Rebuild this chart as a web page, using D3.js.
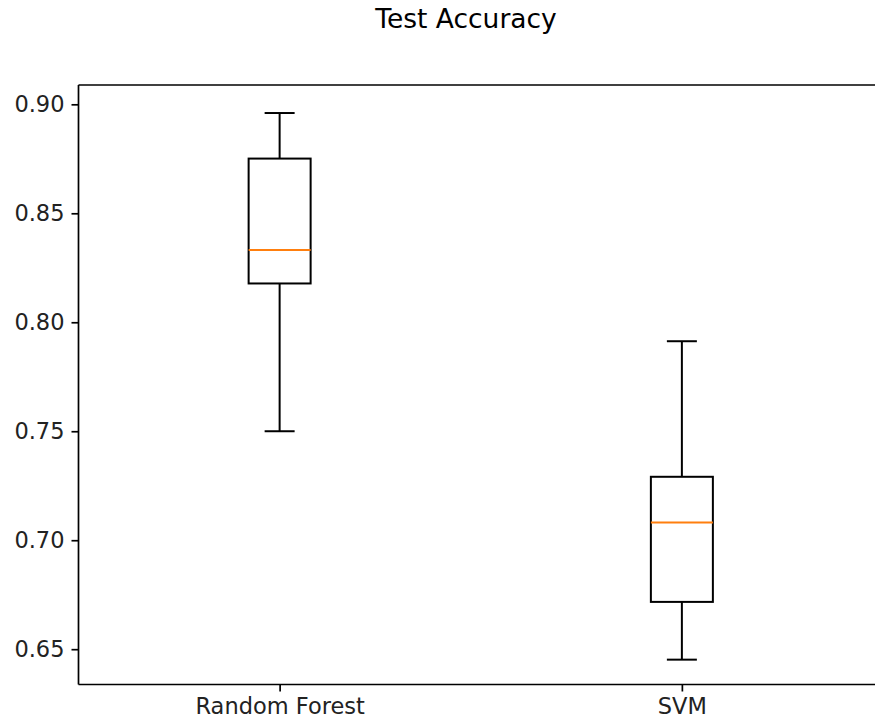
<!DOCTYPE html>
<html>
<head>
<meta charset="utf-8">
<script src="https://cdn.jsdelivr.net/npm/d3@7"></script>
<style>
  body { margin: 0; background: #fff; }
  svg { display: block; }
</style>
</head>
<body>
<svg id="chart"></svg>
<script>
// box stats
var categories = ["Random Forest", "SVM"];
var whiskerLow = [0.750, 0.6452];
var q1 = [0.8178, 0.6717];
var median = [0.8331, 0.7081];
var q3 = [0.8751, 0.7291];
var whiskerHigh = [0.896, 0.7913];
var yTicks = [0.65, 0.70, 0.75, 0.80, 0.85, 0.90];

var width = 875, height = 723;
var plotLeft = 78.5, plotTop = 85, plotRight = 883, plotBottom = 684.5;

var svg = d3.select("#chart")
    .attr("width", width)
    .attr("height", height);

var font = "'DejaVu Sans', sans-serif";

// scales
var xScale = d3.scaleLinear()
    .domain([0.5, 2.5])
    .range([plotLeft, plotRight]);

var yScale = d3.scaleLinear()
    .domain([0.6338, 0.90886])
    .range([plotBottom, plotTop]);

var boxW = 62, capW = 30;

// title
svg.append("text")
    .attr("x", 466)
    .attr("y", 28)
    .attr("text-anchor", "middle")
    .style("font-family", font)
    .style("font-size", "26.5px")
    .attr("fill", "#000")
    .text("Test Accuracy");

var data = categories.map(function(c, i) {
    return { name: c, pos: i + 1, lo: whiskerLow[i], q1: q1[i], med: median[i], q3: q3[i], hi: whiskerHigh[i] };
});

var g = svg.selectAll(".box")
    .data(data)
    .enter().append("g")
    .attr("class", "box");

// whiskers
g.append("line")
    .attr("x1", function(d) { return xScale(d.pos); })
    .attr("x2", function(d) { return xScale(d.pos); })
    .attr("y1", function(d) { return yScale(d.lo); })
    .attr("y2", function(d) { return yScale(d.q1); })
    .attr("stroke", "#000").attr("stroke-width", 2);

g.append("line")
    .attr("x1", function(d) { return xScale(d.pos); })
    .attr("x2", function(d) { return xScale(d.pos); })
    .attr("y1", function(d) { return yScale(d.q3); })
    .attr("y2", function(d) { return yScale(d.hi); })
    .attr("stroke", "#000").attr("stroke-width", 2);

// caps
g.append("line")
    .attr("x1", function(d) { return xScale(d.pos) - capW / 2; })
    .attr("x2", function(d) { return xScale(d.pos) + capW / 2; })
    .attr("y1", function(d) { return yScale(d.lo); })
    .attr("y2", function(d) { return yScale(d.lo); })
    .attr("stroke", "#000").attr("stroke-width", 2);

g.append("line")
    .attr("x1", function(d) { return xScale(d.pos) - capW / 2; })
    .attr("x2", function(d) { return xScale(d.pos) + capW / 2; })
    .attr("y1", function(d) { return yScale(d.hi); })
    .attr("y2", function(d) { return yScale(d.hi); })
    .attr("stroke", "#000").attr("stroke-width", 2);

// boxes
g.append("rect")
    .attr("x", function(d) { return xScale(d.pos) - boxW / 2; })
    .attr("y", function(d) { return yScale(d.q3); })
    .attr("width", boxW)
    .attr("height", function(d) { return yScale(d.q1) - yScale(d.q3); })
    .attr("fill", "none")
    .attr("stroke", "#000").attr("stroke-width", 2);

// medians
g.append("line")
    .attr("x1", function(d) { return xScale(d.pos) - boxW / 2; })
    .attr("x2", function(d) { return xScale(d.pos) + boxW / 2; })
    .attr("y1", function(d) { return yScale(d.med); })
    .attr("y2", function(d) { return yScale(d.med); })
    .attr("stroke", "#ff7f0e").attr("stroke-width", 2);

// y axis
var yAxis = svg.append("g")
    .attr("transform", "translate(" + plotLeft + ",0)")
    .call(d3.axisLeft(yScale)
        .tickValues(yTicks)
        .tickFormat(d3.format(".2f"))
        .tickSize(7)
        .tickPadding(7));

// x axis
var xAxis = svg.append("g")
    .attr("transform", "translate(0," + plotBottom + ")")
    .call(d3.axisBottom(xScale)
        .tickValues([1, 2])
        .tickFormat(function(d) { return categories[d - 1]; })
        .tickSize(7)
        .tickPadding(7));

[yAxis, xAxis].forEach(function(ax) {
    ax.select(".domain").attr("stroke", "#000").attr("stroke-width", 1.7);
    ax.selectAll(".tick line").attr("stroke", "#000").attr("stroke-width", 1.7);
    ax.selectAll(".tick text")
        .style("font-family", font)
        .style("font-size", "22.5px")
        .attr("fill", "#222");
});
// d3 axis domain has outer ticks; draw plain spines instead
yAxis.select(".domain").attr("d", "M0," + plotTop + "V" + plotBottom);
xAxis.select(".domain").attr("d", "M" + plotLeft + ",0H" + plotRight);

// top and right spines
svg.append("line")
    .attr("x1", plotLeft).attr("x2", plotRight)
    .attr("y1", plotTop).attr("y2", plotTop)
    .attr("stroke", "#000").attr("stroke-width", 1.7);
svg.append("line")
    .attr("x1", plotRight).attr("x2", plotRight)
    .attr("y1", plotTop).attr("y2", plotBottom)
    .attr("stroke", "#000").attr("stroke-width", 1.7);
</script>
</body>
</html>
